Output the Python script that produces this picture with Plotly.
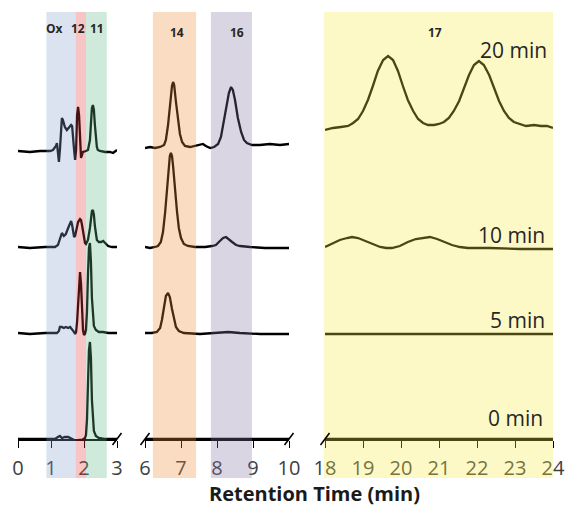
import plotly.graph_objects as go

W, H = 569, 509

# ---------------- data (retention time in min, detector signal in a.u.) ----------------
trace_names = ["0 min", "5 min", "10 min", "20 min"]
trace_offsets = [0, 106, 192, 288]   # vertical stacking of chromatograms

# Panel 1: 0-3 min
p1_t_20 = [0.00, 0.36, 0.67, 0.97, 1.06, 1.15, 1.18, 1.21, 1.24, 1.27, 1.30, 1.33, 1.36, 1.42, 1.48, 1.55,
           1.61, 1.64, 1.67, 1.70, 1.73, 1.76, 1.79, 1.82, 1.85, 1.88, 1.91, 1.94, 1.97, 2.06, 2.12, 2.18,
           2.21, 2.24, 2.27, 2.30, 2.33, 2.36, 2.39, 2.42, 2.48, 2.64, 2.79, 2.88, 2.94, 3.00]
p1_s_20 = [0, -1, 0, 0, 1, 5, 8, 1, -11, 1, 26, 33, 31, 24, 21, 24,
           26, 25, 16, 1, -9, 1, 36, 44, 36, 6, -7, -4, -1, 0, 1, 11,
           29, 43, 46, 41, 26, 11, 4, 1, 0, -1, -1, -2, 0, 1]

p1_t_10 = [0.00, 0.36, 0.82, 1.12, 1.21, 1.27, 1.33, 1.39, 1.45, 1.52, 1.58, 1.61, 1.64, 1.67, 1.70, 1.73,
           1.79, 1.82, 1.88, 1.91, 1.94, 2.00, 2.03, 2.06, 2.12, 2.18, 2.21, 2.24, 2.27, 2.30, 2.33, 2.36,
           2.39, 2.45, 2.52, 2.58, 2.64, 2.73, 2.85, 3.00]
p1_s_10 = [0, -1, 0, 0, 2, 9, 14, 11, 13, 19, 25, 26, 22, 15, 10, 11,
           21, 25, 28, 27, 22, 10, 4, 3, 7, 19, 29, 36, 37, 32, 21, 12,
           7, 5, 5, 6, 4, 1, 0, 0]

p1_t_5 = [0.00, 0.36, 0.82, 1.18, 1.24, 1.27, 1.33, 1.39, 1.45, 1.52, 1.58, 1.64, 1.70, 1.73, 1.76, 1.79,
          1.82, 1.85, 1.88, 1.91, 1.94, 1.97, 2.00, 2.03, 2.06, 2.09, 2.12, 2.15, 2.18, 2.21, 2.24, 2.27,
          2.30, 2.36, 2.45, 2.58, 2.73, 3.00]
p1_s_5 = [0, -1, 0, 0, 2, 6, 6, 5, 6, 5, 6, 4, 1, -1, 1, 11,
          31, 51, 61, 49, 18, 3, -2, -1, 3, 21, 58, 85, 90, 71, 35, 15,
          7, 3, 1, 1, 0, 0]

p1_t_0 = [0.00, 0.67, 1.12, 1.21, 1.27, 1.33, 1.42, 1.52, 1.58, 1.67, 1.76, 1.85, 1.94, 2.03, 2.06, 2.09,
          2.12, 2.15, 2.18, 2.21, 2.24, 2.27, 2.30, 2.36, 2.45, 2.61, 3.00]
p1_s_0 = [0, 0, 0, 2, 3, 1, 2, 2, 1, -1, -2, -1, -1, 1, 4, 19,
          54, 89, 97, 81, 39, 17, 8, 3, 1, 0, 0]

# Panel 2: 6-10 min
p2_t_20 = [6.00, 6.14, 6.28, 6.42, 6.53, 6.58, 6.64, 6.69, 6.75, 6.78, 6.81, 6.86, 6.92, 6.97, 7.03, 7.11,
           7.25, 7.39, 7.53, 7.61, 7.69, 7.81, 7.92, 8.03, 8.11, 8.19, 8.28, 8.33, 8.39, 8.44, 8.50, 8.58,
           8.67, 8.75, 8.83, 8.97, 9.19, 9.47, 9.75, 10.00]
p2_s_20 = [3, 4, 3, 4, 6, 11, 26, 46, 65, 69, 66, 49, 31, 17, 9, 5,
           4, 5, 6, 7, 5, 3, 4, 7, 14, 29, 47, 58, 64, 61, 51, 33,
           19, 11, 8, 6, 6, 7, 6, 7]

p2_t_10 = [6.00, 6.14, 6.28, 6.36, 6.44, 6.50, 6.56, 6.61, 6.67, 6.69, 6.72, 6.75, 6.78, 6.83, 6.89, 6.94,
           7.00, 7.08, 7.19, 7.39, 7.67, 7.86, 7.97, 8.08, 8.17, 8.25, 8.33, 8.42, 8.53, 8.64, 8.92, 9.33,
           10.00]
p2_s_10 = [0, -1, 0, 1, 5, 15, 35, 59, 83, 91, 94, 91, 81, 57, 35, 19,
           9, 3, 1, 0, 0, 1, 2, 6, 9, 10, 8, 5, 2, 1, 0, -1,
           -1]

p2_t_5 = [6.00, 6.19, 6.33, 6.42, 6.47, 6.53, 6.58, 6.64, 6.69, 6.75, 6.81, 6.86, 6.94, 7.08, 7.53, 8.08,
          8.31, 8.64, 9.19, 10.00]
p2_s_5 = [0, 0, 1, 5, 13, 27, 37, 40, 36, 24, 13, 6, 2, 0, -1, 0,
          1, 0, -1, -1]

p2_t_0 = [6.00, 7.00, 8.00, 9.00, 10.00]
p2_s_0 = [0, 0, 0, 0, 0]

# Panel 3: 18-24 min
p3_t_20 = [18.00, 18.21, 18.42, 18.61, 18.74, 18.87, 19.00, 19.13, 19.26, 19.39, 19.53, 19.66, 19.79, 19.92,
           20.05, 20.18, 20.32, 20.45, 20.58, 20.71, 20.87, 21.00, 21.13, 21.26, 21.39, 21.53, 21.66, 21.79,
           21.92, 22.05, 22.18, 22.32, 22.45, 22.58, 22.71, 22.84, 22.97, 23.11, 23.29, 23.50, 23.68, 23.84,
           24.00]
p3_s_20 = [21, 23, 24, 25, 28, 32, 40, 51, 65, 80, 91, 95, 91, 80,
           65, 51, 40, 32, 28, 26, 26, 27, 29, 33, 40, 50, 63, 76,
           86, 90, 86, 76, 63, 50, 40, 33, 29, 27, 25, 26, 25, 25,
           23]

p3_t_10 = [18.00, 18.18, 18.39, 18.58, 18.71, 18.87, 19.05, 19.24, 19.45, 19.61, 19.76, 19.97, 20.18, 20.39,
           20.58, 20.76, 20.95, 21.13, 21.34, 21.55, 21.76, 22.34, 23.13, 24.00]
p3_s_10 = [0, 3, 7, 9, 10, 9, 6, 3, 0, -1, -1, 1, 5, 8,
           9, 10, 8, 5, 2, 0, -1, -1, -2, -2]

p3_t_5 = [18.00, 20.00, 22.00, 24.00]
p3_s_5 = [-1, -1, -1, -1]

p3_t_0 = [18.00, 20.00, 22.00, 24.00]
p3_s_0 = [0, 0, 0, 0]

# Compound windows
band_labels = ["Ox", "12", "11", "14", "16", "17"]
band_start = [0.86, 1.75, 2.06, 6.22, 7.83, 17.97]
band_end = [1.75, 2.06, 2.69, 7.42, 8.97, 24.0]
band_panel = [0, 0, 0, 1, 1, 2]
band_colors = ["rgb(132,162,202)", "rgb(228,62,62)", "rgb(95,185,135)",
               "rgb(238,138,55)", "rgb(128,115,162)", "rgb(245,235,65)"]

# Axis segments
panel_ranges = [[0, 3], [6, 10], [18, 24]]
panel_ticks = [[0, 1, 2, 3], [6, 7, 8, 9, 10], [18, 19, 20, 21, 22, 23, 24]]

# ---------------- layout geometry ----------------
TOP, BOTTOM = 12, 70
plot_h = H - TOP - BOTTOM
panel_px = [[18, 117], [145, 289], [325, 553]]
domains = [[a / W, b / W] for a, b in panel_px]

def px_y_to_paper(py):
    return (H - BOTTOM - py) / plot_h

def data_to_paper_x(i, t):
    d0, d1 = domains[i]
    r0, r1 = panel_ranges[i]
    return d0 + (t - r0) / (r1 - r0) * (d1 - d0)

panels_t = [[p1_t_0, p1_t_5, p1_t_10, p1_t_20],
            [p2_t_0, p2_t_5, p2_t_10, p2_t_20],
            [p3_t_0, p3_t_5, p3_t_10, p3_t_20]]
panels_s = [[p1_s_0, p1_s_5, p1_s_10, p1_s_20],
            [p2_s_0, p2_s_5, p2_s_10, p2_s_20],
            [p3_s_0, p3_s_5, p3_s_10, p3_s_20]]

fig = go.Figure()
axis_ids = ["x", "x2", "x3"]
for i in range(3):
    for k in range(4):
        fig.add_trace(go.Scatter(
            x=panels_t[i][k],
            y=[v + trace_offsets[k] for v in panels_s[i][k]],
            mode="lines", line=dict(color="black", width=2.3),
            xaxis=axis_ids[i], yaxis="y", showlegend=False, hoverinfo="skip",
            cliponaxis=False))

FONT = "Open Sans, Lato, sans-serif"
axis_common = dict(showline=True, linecolor="black", linewidth=1.5, ticks="outside",
                   ticklen=7, tickwidth=1, tickcolor="black", showgrid=False, zeroline=False,
                   anchor="y", automargin=False, ticklabelstandoff=3,
                   tickfont=dict(family=FONT, size=20, color="#404040"))
layout_axes = {}
for i in range(3):
    name = "xaxis" if i == 0 else f"xaxis{i + 1}"
    layout_axes[name] = dict(axis_common, domain=domains[i], range=panel_ranges[i],
                             tickmode="array", tickvals=panel_ticks[i],
                             ticktext=[str(v) for v in panel_ticks[i]])

shapes = []
for lab, a, b, p, c in zip(band_labels, band_start, band_end, band_panel, band_colors):
    shapes.append(dict(type="rect", xref="paper", yref="paper",
                       x0=data_to_paper_x(p, a), x1=data_to_paper_x(p, b),
                       y0=px_y_to_paper(478), y1=1.0,
                       fillcolor=c, opacity=0.3, line=dict(width=0), layer="above"))

# axis-break slashes
for cx in [panel_px[0][1], panel_px[1][0], panel_px[1][1], panel_px[2][0]]:
    shapes.append(dict(type="line", xref="paper", yref="paper",
                       x0=(cx - 4.5) / W, x1=(cx + 4.5) / W,
                       y0=px_y_to_paper(H - BOTTOM + 6), y1=px_y_to_paper(H - BOTTOM - 6),
                       line=dict(color="black", width=1.5), layer="above"))

annotations = []
band_label_pos = [(0, 1.12), (0, 1.82), (0, 2.39), (1, 6.89), (1, 8.56), (2, 20.89)]
band_label_y = [28, 28, 28, 32, 32, 32]
for lab, (p, t), py in zip(band_labels, band_label_pos, band_label_y):
    annotations.append(dict(x=data_to_paper_x(p, t), y=px_y_to_paper(py), xref="paper", yref="paper",
                            xanchor="center", yanchor="middle",
                            text=f"<b>{lab}</b>", showarrow=False,
                            font=dict(family=FONT, size=12, color="#262626")))

trace_label_px = [(515, 418), (517, 320), (512, 235), (513, 50)]
for name, (lx, ly) in zip(trace_names, trace_label_px):
    annotations.append(dict(x=lx / W, y=px_y_to_paper(ly), xref="paper", yref="paper",
                            xanchor="center", yanchor="middle",
                            text=name, showarrow=False,
                            font=dict(family=FONT, size=21, color="#262626")))

annotations.append(dict(x=314 / W, y=px_y_to_paper(494), xref="paper", yref="paper",
                        xanchor="center", yanchor="middle",
                        text="<b>Retention Time (min)</b>", showarrow=False,
                        font=dict(family=FONT, size=20, color="#1a1a1a")))

fig.update_layout(
    width=W, height=H, margin=dict(l=0, r=0, t=TOP, b=BOTTOM, autoexpand=False),
    paper_bgcolor="white", plot_bgcolor="white",
    yaxis=dict(range=[0, plot_h], domain=[0, 1], visible=False, fixedrange=True, automargin=False),
    shapes=shapes, annotations=annotations, **layout_axes)

fig.write_html("out.html")
